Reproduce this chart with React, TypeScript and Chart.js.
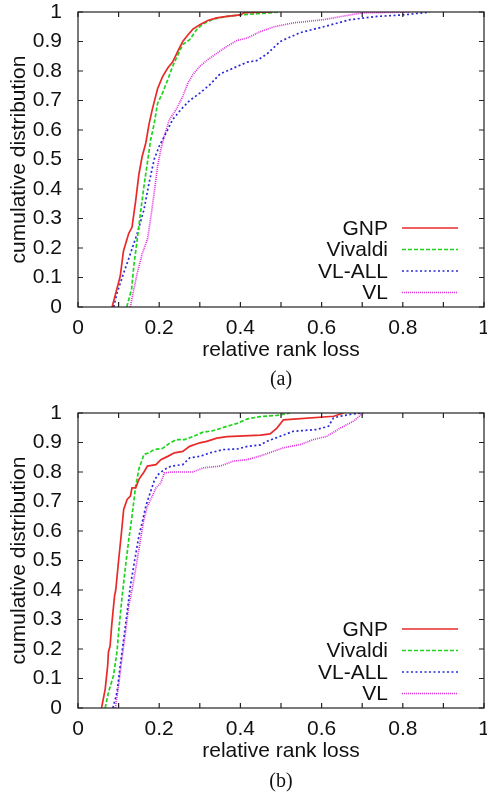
import React, { useEffect, useRef } from 'react';
import { Chart, registerables } from 'chart.js';

Chart.register(...registerables);

// ---------- data ----------
const seriesNames = ['GNP', 'Vivaldi', 'VL-ALL', 'VL'];
const xAxisTitle = 'relative rank loss';
const yAxisTitle = 'cumulative distribution';
const captions = ['(a)', '(b)'];
const minorTickValues = [0, 0.1, 0.2, 0.3, 0.4, 0.5, 0.6, 0.7, 0.8, 0.9, 1];

// chart (a)
const aGnpX = [0.084, 0.092, 0.104, 0.112, 0.125, 0.133, 0.142, 0.150, 0.158, 0.167, 0.175, 0.183, 0.196, 0.208, 0.221, 0.233, 0.246, 0.258, 0.271, 0.283, 0.300, 0.321, 0.342, 0.367, 0.400, 0.410, 0.480];
const aGnpY = [0, 0.042, 0.104, 0.19, 0.25, 0.27, 0.36, 0.45, 0.51, 0.556, 0.62, 0.67, 0.74, 0.78, 0.81, 0.83, 0.867, 0.90, 0.923, 0.942, 0.957, 0.972, 0.98, 0.985, 0.99, 0.998, 1.0];
const aVivX = [0.120, 0.125, 0.132, 0.1375, 0.146, 0.154, 0.1625, 0.171, 0.179, 0.1875, 0.196, 0.208, 0.221, 0.233, 0.246, 0.258, 0.275, 0.292, 0.308, 0.333, 0.367, 0.400, 0.450, 0.494];
const aVivY = [0, 0.025, 0.06, 0.14, 0.23, 0.32, 0.41, 0.49, 0.567, 0.62, 0.69, 0.725, 0.77, 0.816, 0.855, 0.89, 0.906, 0.94, 0.96, 0.976, 0.985, 0.99, 0.995, 1.0];
const aVlAllX = [0.088, 0.096, 0.1125, 0.129, 0.146, 0.1625, 0.175, 0.1875, 0.200, 0.217, 0.233, 0.254, 0.275, 0.300, 0.325, 0.350, 0.383, 0.417, 0.440, 0.465, 0.498, 0.547, 0.605, 0.670, 0.736, 0.800, 0.867];
const aVlAllY = [0, 0.047, 0.115, 0.18, 0.25, 0.33, 0.42, 0.50, 0.545, 0.59, 0.635, 0.67, 0.70, 0.725, 0.754, 0.79, 0.81, 0.83, 0.835, 0.857, 0.90, 0.93, 0.95, 0.974, 0.985, 0.99, 1.0];
const aVlX = [0.129, 0.136, 0.146, 0.158, 0.171, 0.179, 0.1875, 0.196, 0.204, 0.2125, 0.225, 0.242, 0.258, 0.271, 0.283, 0.300, 0.321, 0.342, 0.367, 0.392, 0.417, 0.450, 0.483, 0.530, 0.605, 0.670, 0.700, 0.818];
const aVlY = [0, 0.05, 0.115, 0.18, 0.23, 0.30, 0.386, 0.477, 0.533, 0.58, 0.635, 0.67, 0.714, 0.76, 0.788, 0.816, 0.84, 0.86, 0.884, 0.904, 0.912, 0.934, 0.95, 0.963, 0.974, 0.99, 0.997, 1.0];

// chart (b)
const bGnpX = [0.058, 0.067, 0.073, 0.075, 0.079, 0.083, 0.090, 0.093, 0.100, 0.107, 0.1125, 0.121, 0.129, 0.133, 0.142, 0.150, 0.1625, 0.171, 0.192, 0.204, 0.221, 0.2375, 0.258, 0.275, 0.300, 0.317, 0.342, 0.367, 0.450, 0.473, 0.490, 0.506, 0.630, 0.654];
const bGnpY = [0, 0.064, 0.143, 0.19, 0.21, 0.28, 0.38, 0.40, 0.50, 0.594, 0.673, 0.707, 0.718, 0.746, 0.746, 0.775, 0.80, 0.82, 0.825, 0.842, 0.853, 0.865, 0.87, 0.887, 0.899, 0.904, 0.915, 0.92, 0.925, 0.929, 0.949, 0.977, 0.989, 1.0];
const bVivX = [0.067, 0.075, 0.0875, 0.096, 0.100, 0.108, 0.117, 0.125, 0.133, 0.142, 0.150, 0.1625, 0.175, 0.1875, 0.208, 0.225, 0.242, 0.2625, 0.283, 0.308, 0.333, 0.367, 0.392, 0.417, 0.450, 0.490, 0.522];
const bVivY = [0, 0.053, 0.11, 0.19, 0.256, 0.37, 0.48, 0.57, 0.65, 0.752, 0.81, 0.86, 0.865, 0.876, 0.88, 0.897, 0.91, 0.91, 0.92, 0.935, 0.94, 0.955, 0.965, 0.98, 0.988, 0.992, 1.0];
const bVlAllX = [0.086, 0.096, 0.104, 0.1125, 0.121, 0.129, 0.140, 0.150, 0.158, 0.167, 0.175, 0.1875, 0.196, 0.2125, 0.229, 0.258, 0.275, 0.300, 0.325, 0.358, 0.392, 0.417, 0.450, 0.465, 0.498, 0.530, 0.588, 0.617, 0.629, 0.646, 0.678, 0.703];
const bVlAllY = [0, 0.053, 0.143, 0.233, 0.324, 0.414, 0.504, 0.583, 0.628, 0.684, 0.718, 0.769, 0.79, 0.808, 0.82, 0.825, 0.848, 0.853, 0.865, 0.876, 0.878, 0.887, 0.892, 0.904, 0.921, 0.938, 0.944, 0.955, 0.983, 0.989, 0.997, 1.0];
const bVlX = [0.092, 0.100, 0.108, 0.117, 0.125, 0.135, 0.146, 0.154, 0.1625, 0.171, 0.183, 0.192, 0.204, 0.2125, 0.233, 0.283, 0.308, 0.350, 0.383, 0.417, 0.450, 0.506, 0.547, 0.580, 0.613, 0.646, 0.678, 0.703];
const bVlY = [0, 0.076, 0.166, 0.256, 0.346, 0.414, 0.504, 0.572, 0.64, 0.684, 0.718, 0.746, 0.763, 0.797, 0.80, 0.80, 0.814, 0.82, 0.837, 0.842, 0.855, 0.882, 0.893, 0.91, 0.921, 0.949, 0.972, 1.0];

// ---------- styles ----------
const seriesColors = ['#e82a2a', '#1fd41f', '#2a2ad8', '#e02ee0'];
const seriesDashes: number[][] = [[], [4, 2], [2, 2.5], [1, 1]];
const FONT = '"Liberation Sans", Arial, sans-serif';
const TEXT = '#111111';

type Series = { xs: number[]; ys: number[] }[];

const chartASeries: Series = [
  { xs: aGnpX, ys: aGnpY },
  { xs: aVivX, ys: aVivY },
  { xs: aVlAllX, ys: aVlAllY },
  { xs: aVlX, ys: aVlY },
];
const chartBSeries: Series = [
  { xs: bGnpX, ys: bGnpY },
  { xs: bVivX, ys: bVivY },
  { xs: bVlAllX, ys: bVlAllY },
  { xs: bVlX, ys: bVlY },
];

const framePlugin = {
  id: 'frameTicks',
  afterDatasetsDraw(chart: any) {
    const { ctx, chartArea, scales } = chart;
    const { left, right, top, bottom } = chartArea;
    const xs = scales.x;
    const ys = scales.y;
    ctx.save();
    ctx.strokeStyle = '#222';
    ctx.lineWidth = 1.2;
    ctx.setLineDash([]);
    ctx.strokeRect(left, top, right - left, bottom - top);
    const len = 5;
    ctx.beginPath();
    for (const v of minorTickValues) {
      const px = xs.getPixelForValue(v);
      ctx.moveTo(px, bottom);
      ctx.lineTo(px, bottom - len);
      ctx.moveTo(px, top);
      ctx.lineTo(px, top + len);
      const py = ys.getPixelForValue(v);
      ctx.moveTo(left, py);
      ctx.lineTo(left + len, py);
      ctx.moveTo(right, py);
      ctx.lineTo(right - len, py);
    }
    ctx.stroke();

    // legend inside plot, lower right
    const ds = chart.data.datasets;
    const n = ds.length;
    ctx.font = `21px ${FONT}`;
    ctx.fillStyle = TEXT;
    ctx.textAlign = 'right';
    ctx.textBaseline = 'middle';
    for (let i = 0; i < n; i++) {
      const y = bottom - 14.5 - 21.5 * (n - 1 - i);
      ctx.fillText(ds[i].label, right - 96, y + 1);
      ctx.strokeStyle = ds[i].borderColor;
      ctx.lineWidth = 1.7;
      ctx.setLineDash(ds[i].borderDash || []);
      ctx.beginPath();
      ctx.moveTo(right - 82, y);
      ctx.lineTo(right - 26, y);
      ctx.stroke();
    }
    ctx.restore();
  },
};

const fmt = (v: any) => String(Math.round(Number(v) * 10) / 10);

function CdfChart({ top, height, padBottom, series, caption, captionTop }: {
  top: number; height: number; padBottom: number; series: Series; caption: string; captionTop: number;
}) {
  const ref = useRef<HTMLCanvasElement>(null);
  useEffect(() => {
    const datasets = series.map((s, i) => ({
      label: seriesNames[i],
      data: s.xs.map((x, j) => ({ x, y: s.ys[j] })),
      borderColor: seriesColors[i],
      backgroundColor: seriesColors[i],
      borderDash: seriesDashes[i],
      borderWidth: 1.7,
      pointRadius: 0,
      tension: 0,
      fill: false,
    }));
    const chart = new Chart(ref.current!, {
      type: 'line',
      data: { datasets },
      plugins: [framePlugin],
      options: {
        animation: false,
        responsive: false,
        devicePixelRatio: 1,
        layout: { padding: { left: 0, right: 3, top: 12, bottom: padBottom } },
        plugins: { legend: { display: false }, tooltip: { enabled: false } },
        scales: {
          x: {
            type: 'linear',
            min: 0,
            max: 1,
            grid: { display: false },
            border: { display: false },
            ticks: {
              stepSize: 0.2,
              autoSkip: false,
              maxRotation: 0,
              padding: 1,
              color: TEXT,
              font: { family: FONT, size: 21 },
              callback: fmt,
            },
            title: {
              display: true,
              text: xAxisTitle,
              color: TEXT,
              font: { family: FONT, size: 21, lineHeight: 1.2 },
              padding: { top: 0, bottom: 0 },
            },
            afterFit(s: any) {
              s.height = 56;
              s.paddingLeft = 0;
              s.paddingRight = 0;
            },
          },
          y: {
            type: 'linear',
            min: 0,
            max: 1,
            grid: { display: false },
            border: { display: false },
            ticks: {
              stepSize: 0.1,
              autoSkip: false,
              padding: 8,
              color: TEXT,
              font: { family: FONT, size: 21 },
              callback: fmt,
            },
            title: {
              display: true,
              text: yAxisTitle,
              color: TEXT,
              font: { family: FONT, size: 21, lineHeight: 1.2 },
              padding: { top: 7, bottom: 0 },
            },
            afterFit(s: any) {
              s.width = 78;
              s.paddingTop = 0;
              s.paddingBottom = 0;
            },
          },
        },
      } as any,
    });
    return () => chart.destroy();
  }, []);
  return (
    <>
      <canvas
        ref={ref}
        width={487}
        height={height}
        style={{ position: 'absolute', left: 0, top, width: 487, height, display: 'block' }}
      />
      <div
        style={{
          position: 'absolute',
          left: 78,
          width: 406,
          top: captionTop,
          textAlign: 'center',
          fontFamily: '"Liberation Serif", "Times New Roman", serif',
          fontSize: 20,
          lineHeight: '24px',
          color: TEXT,
        }}
      >
        {caption}
      </div>
    </>
  );
}

export default function App() {
  return (
    <div style={{ position: 'absolute', left: 0, top: 0, width: 487, height: 795, background: '#fff', overflow: 'hidden' }}>
      <CdfChart top={0} height={395} padBottom={32} series={chartASeries} caption={captions[0]} captionTop={366} />
      <CdfChart top={401} height={394} padBottom={31} series={chartBSeries} caption={captions[1]} captionTop={768} />
    </div>
  );
}
